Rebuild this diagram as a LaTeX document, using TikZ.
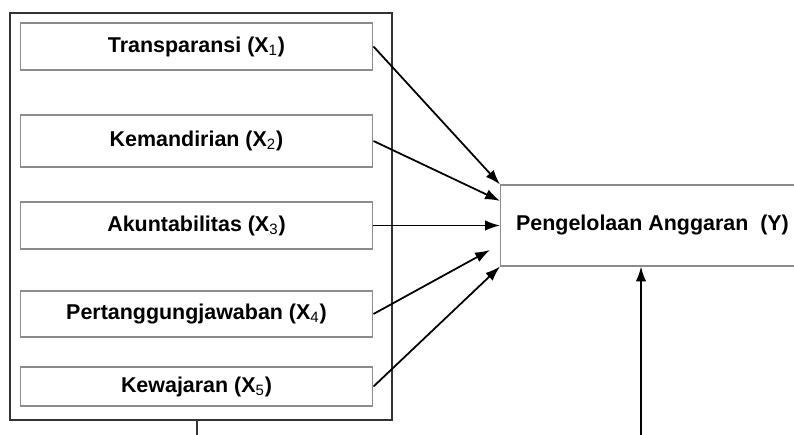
\documentclass[tikz,border=0pt]{standalone}
\usepackage{fontspec}
\setmainfont{Liberation Sans}
\usepackage{tikz}
\usetikzlibrary{arrows}
\usetikzlibrary{arrows.meta,calc}

\tikzset{
  varbox/.style={draw=black!45, line width=0.6pt, rectangle, inner sep=0pt,
    minimum width=7.06cm, font=\fontsize{12.2}{14}\selectfont\bfseries},
  frame/.style={draw=black!80, line width=1.1pt, rectangle, inner sep=0pt},
}

\begin{document}
\begin{tikzpicture}[x=0.02cm, y=-0.02cm, line width=1pt, >={Latex[length=8.5pt,width=6pt]}]
\useasboundingbox (0,0) rectangle (794,435);

\node[frame, minimum width=7.64cm, minimum height=8.14cm] (outer) at (201,216.5) {};

\node[varbox, minimum height=0.94cm] (x1) at (196.5,46.5) {Transparansi (X\textsubscript{\mdseries 1})};
\node[varbox, minimum height=1.04cm] (x2) at (196.5,141) {Kemandirian (X\textsubscript{\mdseries 2})};
\node[varbox, minimum height=0.94cm] (x3) at (196.5,225.5) {Akuntabilitas (X\textsubscript{\mdseries 3})};
\node[varbox, minimum height=0.92cm] (x4) at (196.5,314) {Pertanggungjawaban (X\textsubscript{\mdseries 4})};
\node[varbox, minimum height=0.78cm] (x5) at (196.5,386.5) {Kewajaran (X\textsubscript{\mdseries 5})};

\node[varbox, anchor=west, minimum width=6.08cm, minimum height=1.62cm] (y) at (500,225.5) {Pengelolaan Anggaran\ \ (Y)};

\coordinate (t2) at ($(y.north west)!0.2!(y.south west)$);
\coordinate (t4) at (490,250);
\coordinate (ein) at (641,440);
\coordinate (xout) at (197,440);

\path
    (x1.east) edge[->] (y.north west)
    (x2.east) edge[->] (t2)
    (x3.east) edge[->] (y.west)
    (x4.east) edge[->] (t4)
    (x5.east) edge[->] (y.south west)
    (ein) edge[->] (ein |- y.south);

\draw[draw=black!80, line width=1.1pt] (xout |- outer.south) -- (xout);
\end{tikzpicture}
\end{document}
